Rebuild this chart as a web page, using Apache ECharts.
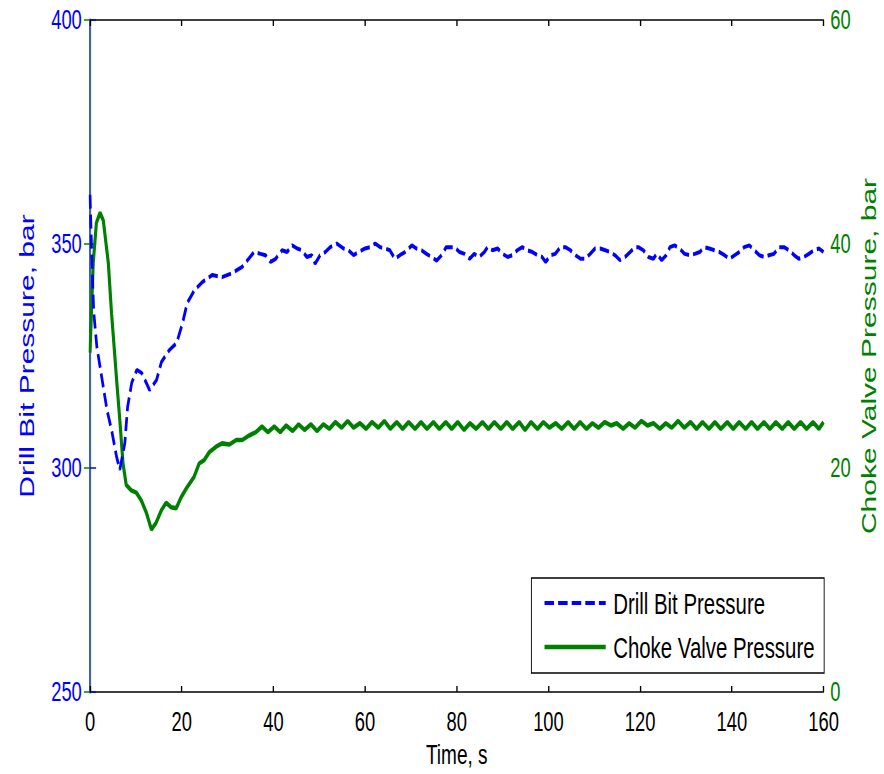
<!DOCTYPE html>
<html>
<head>
<meta charset="utf-8">
<script src="https://cdn.jsdelivr.net/npm/echarts@6/dist/echarts.min.js"></script>
<style>
html, body { margin: 0; padding: 0; width: 884px; height: 774px; overflow: hidden; background: #ffffff; }
#chart { position: absolute; left: 0; top: 0; width: 1300px; height: 774px; transform: scaleX(0.68); transform-origin: 0 0; }
</style>
</head>
<body>
<div id="chart"></div>
<script>
// ---- data ----
const xTicks = [0, 20, 40, 60, 80, 100, 120, 140, 160];
const leftTicks = [250, 300, 350, 400];
const rightTicks = [0, 20, 40, 60];

const drillName = 'Drill Bit Pressure';
const chokeName = 'Choke Valve Pressure';

// Drill Bit Pressure (bar) — time (s)
const blueT = [0, 0.4, 0.8, 1.5, 2.6, 3.7, 4.8, 5.8, 6.5, 7.6, 8.2, 9.1, 10.2, 11.3, 13.0, 14.5, 15.6, 17.3, 18.9, 20.2,
  21.2, 22.8, 24.5, 26.7, 28.8, 31.0, 33.2, 35.8,
  37.2, 38.3, 39.4, 40.5, 41.9, 43.0, 44.1, 45.2, 46.2, 47.3, 48.4, 49.1, 50.2, 51.3, 52.4, 53.8, 55.3, 56.4, 57.5, 58.6,
  60.0, 61.1, 62.2, 63.3, 64.4, 65.4, 66.5, 67.6, 68.7, 70.2, 71.2, 72.3, 73.4, 74.5, 75.6, 76.7, 77.7,
  78.4, 79.5, 80.6, 81.7, 82.8, 83.8, 84.9, 86.0, 86.7, 87.8, 88.9, 90.0, 91.1, 92.1, 93.2, 94.3, 95.4, 96.5, 97.6, 98.6,
  99.4, 100.5, 101.5, 102.6, 103.7, 104.8, 105.9, 107.0, 108.0, 109.1, 110.2, 111.3, 112.4, 113.5, 114.5, 115.6, 116.7,
  117.8, 118.9,
  119.6, 120.7, 121.8, 122.9, 123.6, 124.7, 125.7, 126.5, 127.5, 128.6, 129.7, 130.8, 131.9, 133.0, 134.0, 135.1, 136.2,
  137.3, 138.4, 139.5, 140.6, 141.6, 142.7, 143.8, 144.9, 146.0, 147.1, 148.1, 149.2, 150.3, 151.4, 152.5, 153.6, 154.6,
  155.7, 156.8, 157.9, 159.0, 160.0];
const blueV = [361, 347, 335, 327, 320, 313, 308, 302.5, 299.6, 305.6, 313.6, 319, 321.9, 321.2, 317.4, 319.6, 323.7, 326.3, 327.9, 332.4,
  336.8, 339.7, 341.5, 343.1, 342.6, 343.5, 344.9, 348.2,
  347.8, 347.5, 346.0, 346.7, 348.6, 348.2, 349.7, 349.0, 348.6, 347.1, 347.5, 345.6, 347.5, 348.2, 349.3, 350.1, 349.0, 348.6, 347.5, 348.2,
  349.0, 349.3, 350.1, 349.3, 349.0, 348.6, 346.7, 347.5, 348.2, 349.7, 349.0, 348.6, 347.8, 347.1, 346.3, 347.5, 349.3,
  349.3, 349.3, 348.2, 347.8, 346.7, 347.8, 347.1, 348.2, 349.3, 348.6, 349.0, 347.8, 347.1, 347.5, 348.6, 349.3, 348.6, 348.2, 347.5, 347.1,
  346.0, 347.5, 347.8, 349.3, 349.3, 348.6, 347.5, 346.7, 346.7, 347.8, 349.0, 349.0, 348.6, 348.2, 347.5, 346.4, 347.1,
  348.2, 349.3,
  349.3, 348.6, 347.1, 346.7, 347.8, 346.4, 347.5, 349.3, 349.7, 349.0, 347.8, 347.5, 347.8, 348.2, 349.3, 349.0, 348.6,
  348.2, 347.5, 346.7, 347.5, 348.2, 349.3, 349.7, 348.6, 347.5, 347.1, 347.5, 347.8, 349.3, 349.3, 348.6, 347.5, 346.7,
  347.1, 347.8, 348.6, 349.0, 348.2];

// Choke Valve Pressure (bar) — time (s)
const greenT = [0, 0.7, 1.4, 2.2, 2.9, 4.0, 4.7, 5.1, 5.8, 6.5, 7.2, 7.9, 9.0, 10.1, 11.2, 12.3, 13.4, 14.4, 15.6, 16.6,
  17.7, 18.8, 19.9, 21.2, 22.7, 23.8, 24.9, 26.0, 27.5, 28.8, 30.4, 31.9, 33.2, 34.7, 36.2,
  37.5, 38.8, 40.2, 41.5, 42.8, 44.2, 45.5, 46.8, 48.2, 49.5, 50.9, 52.2, 53.5, 54.9, 56.2, 57.5, 58.9, 60.2, 61.5, 62.9,
  64.2, 65.5, 66.9, 68.2, 69.5, 70.9, 72.2, 73.5, 74.9, 76.2, 77.6, 78.9, 80.2, 81.6, 82.9, 84.2, 85.6, 86.9, 88.2, 89.6,
  90.9, 92.2, 93.6, 94.9, 96.2, 97.6, 98.9, 100.2, 101.6, 102.9, 104.3, 105.6, 106.9, 108.3, 109.6, 110.9, 112.3, 113.6,
  114.9, 116.3, 117.6, 118.9, 120.3, 121.6, 122.9, 124.3, 125.6, 126.9, 128.3, 129.6, 131.0, 132.3, 133.6, 135.0, 136.3,
  137.6, 139.0, 140.3, 141.6, 143.0, 144.3, 145.6, 147.0, 148.3, 149.6, 151.0, 152.3, 153.6, 155.0, 156.3, 157.7, 159.0, 160.0];
const greenV = [30.3, 38.3, 41.9, 42.8, 42.1, 38.3, 33.8, 31.7, 27.9, 24.3, 20.4, 18.5, 18.0, 17.8, 17.1, 16.0, 14.5, 15.1, 16.25, 16.9,
  16.5, 16.4, 17.4, 18.3, 19.2, 20.4, 20.7, 21.4, 21.9, 22.2, 22.1, 22.5, 22.5, 22.9, 23.2,
  23.7, 23.2, 23.7, 23.2, 23.8, 23.3, 23.9, 23.4, 23.9, 23.3, 23.9, 23.5, 24.1, 23.6, 24.2, 23.6, 24.0, 23.5, 24.1, 23.6,
  24.2, 23.5, 24.1, 23.5, 24.1, 23.5, 24.1, 23.5, 24.1, 23.5, 24.1, 23.5, 24.1, 23.4, 24.0, 23.5, 24.1, 23.5, 24.1, 23.5,
  24.1, 23.5, 24.1, 23.4, 24.1, 23.5, 24.1, 23.6, 24.0, 23.5, 24.1, 23.5, 24.1, 23.5, 24.0, 23.6, 24.1, 23.8,
  24.0, 23.5, 24.0, 23.6, 24.2, 23.8, 24.0, 23.5, 24.0, 23.6, 24.2, 23.6, 24.1, 23.5, 24.1, 23.5, 24.1,
  23.5, 24.1, 23.5, 24.1, 23.5, 24.1, 23.5, 24.1, 23.5, 24.1, 23.5, 24.1, 23.5, 24.1, 23.5, 24.1, 23.5, 24.1];

// ---- chart ----
const FONT = "'Liberation Sans', Arial, Helvetica, sans-serif";
const BLUE = '#0000ff';
const GREEN = '#008000';
const RIGHT_LINE = '#3a6a9e';

const bluePairs = blueT.map((t, i) => [t, blueV[i]]);
const greenPairs = greenT.map((t, i) => [t, greenV[i]]);

const blueLine = { color: BLUE, width: 4, type: [14, 6] };
const greenLine = { color: GREEN, width: 4.6 };

const chart = echarts.init(document.getElementById('chart'), null, { renderer: 'svg' });
chart.setOption({
  backgroundColor: '#ffffff',
  animation: false,
  textStyle: { fontFamily: FONT },
  grid: { left: 132.35, right: 82.4, top: 20, bottom: 82 },
  legend: {
    orient: 'vertical',
    right: 88,
    bottom: 101,
    backgroundColor: '#ffffff',
    borderColor: '#000000',
    borderWidth: 1.3,
    padding: [10, 14, 11, 17],
    itemWidth: 90,
    itemHeight: 14,
    itemGap: 14,
    itemStyle: { opacity: 0 },
    textStyle: { fontFamily: FONT, fontSize: 30, color: '#000000', lineHeight: 30, padding: [0, 0, 0, 6] },
    data: [
      { name: drillName, itemStyle: { opacity: 0 }, lineStyle: blueLine },
      { name: chokeName, itemStyle: { opacity: 0 }, lineStyle: greenLine }
    ]
  },
  xAxis: [
    {
      type: 'value', min: xTicks[0], max: xTicks[xTicks.length - 1], interval: 20,
      position: 'bottom',
      name: 'Time, s', nameLocation: 'middle', nameGap: 45,
      nameTextStyle: { fontFamily: FONT, fontSize: 28, color: '#000000' },
      axisLine: { show: true, lineStyle: { color: '#000000', width: 1.5 } },
      axisTick: { show: true, inside: true, length: 6, lineStyle: { color: '#000000', width: 2 } },
      axisLabel: { fontFamily: FONT, fontSize: 27, color: '#000000', margin: 18, lineHeight: 24 },
      splitLine: { show: false }
    },
    {
      type: 'value', min: xTicks[0], max: xTicks[xTicks.length - 1], interval: 20,
      position: 'top',
      axisLine: { show: true, lineStyle: { color: '#000000', width: 1.5 } },
      axisTick: { show: true, inside: true, length: 6, lineStyle: { color: '#000000', width: 2 } },
      axisLabel: { show: false },
      splitLine: { show: false }
    }
  ],
  yAxis: [
    {
      type: 'value', min: leftTicks[0], max: leftTicks[leftTicks.length - 1], interval: 50,
      position: 'left',
      name: 'Drill Bit Pressure, bar', nameLocation: 'middle', nameGap: 78, nameRotate: 90,
      nameTextStyle: { fontFamily: FONT, fontSize: 30, color: BLUE },
      axisLine: { show: true, lineStyle: { color: BLUE, width: 2.6 } },
      axisTick: { show: true, inside: true, length: 9, lineStyle: { color: BLUE, width: 1.5 } },
      axisLabel: { fontFamily: FONT, fontSize: 27, color: BLUE, margin: 12, lineHeight: 22 },
      splitLine: { show: false }
    },
    {
      type: 'value', min: rightTicks[0], max: rightTicks[rightTicks.length - 1], interval: 20,
      position: 'right',
      name: 'Choke Valve Pressure, bar', nameLocation: 'middle', nameGap: 50, nameRotate: 90,
      nameTextStyle: { fontFamily: FONT, fontSize: 30, color: GREEN },
      axisLine: { show: true, lineStyle: { color: RIGHT_LINE, width: 3 } },
      axisTick: { show: true, inside: true, length: 9, lineStyle: { color: GREEN, width: 1.5 } },
      axisLabel: { fontFamily: FONT, fontSize: 27, color: GREEN, margin: 10, lineHeight: 22, padding: [0, 0, 4, 0] },
      splitLine: { show: false }
    }
  ],
  series: [
    {
      name: drillName, type: 'line', xAxisIndex: 0, yAxisIndex: 0,
      data: bluePairs, showSymbol: false, symbol: 'none', smooth: false,
      lineStyle: blueLine,
      itemStyle: { color: BLUE },
      z: 3
    },
    {
      name: chokeName, type: 'line', xAxisIndex: 0, yAxisIndex: 1,
      data: greenPairs, showSymbol: false, symbol: 'none', smooth: false,
      lineStyle: greenLine,
      itemStyle: { color: GREEN },
      z: 2
    }
  ]
});
</script>
</body>
</html>
